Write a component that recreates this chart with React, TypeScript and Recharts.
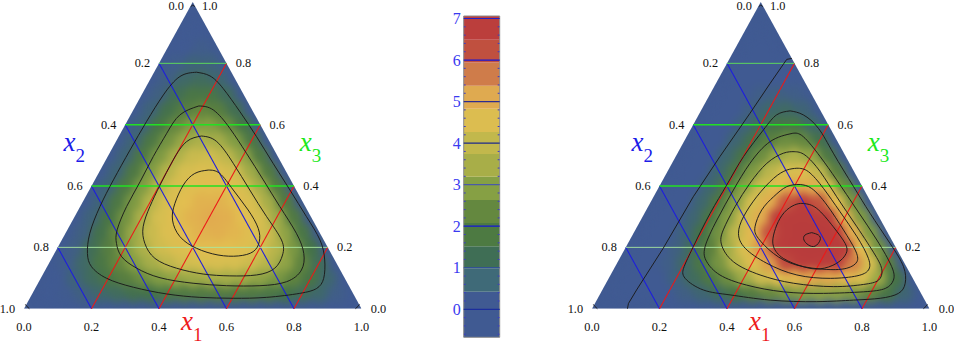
import React from 'react';
import { ComposedChart, XAxis, YAxis, Scatter, Line, ReferenceArea, ReferenceLine } from 'recharts';

// ---- data ----
// density rows: row i is x3 = 0.05*(i+1); entry j is x1 = 0.05*(j+1)
const leftDensity = [
  [.1,.3,.5,.8,1,1.2,1.3,1.5,1.6,1.65,1.7,1.65,1.6,1.5,1.3,1.05,.8,.4],
  [.25,.6,1,1.45,1.8,2.15,2.45,2.7,2.85,2.95,2.95,2.85,2.65,2.35,1.95,1.4,.75],
  [.35,.85,1.45,2,2.5,2.95,3.35,3.65,3.8,3.85,3.8,3.55,3.2,2.65,1.95,1.05],
  [.45,1.1,1.75,2.45,3.05,3.6,4,4.3,4.45,4.4,4.2,3.8,3.2,2.35,1.3],
  [.5,1.25,2.05,2.8,3.5,4.05,4.45,4.7,4.75,4.6,4.2,3.55,2.65,1.45],
  [.6,1.4,2.25,3.05,3.75,4.3,4.7,4.85,4.75,4.4,3.8,2.85,1.6],
  [.6,1.5,2.4,3.2,3.9,4.4,4.7,4.7,4.45,3.85,2.95,1.65],
  [.65,1.55,2.45,3.25,3.9,4.3,4.45,4.3,3.8,2.95,1.7],
  [.65,1.55,2.45,3.2,3.75,4.05,4,3.65,2.85,1.65],
  [.65,1.55,2.4,3.05,3.5,3.6,3.35,2.7,1.6],
  [.65,1.5,2.25,2.8,3.05,2.95,2.45,1.5],
  [.6,1.4,2.05,2.45,2.5,2.15,1.35],
  [.6,1.25,1.75,2,1.8,1.15],
  [.5,1.1,1.45,1.45,1],
  [.45,.85,1,.75],
  [.35,.6,.55],
  [.25,.35],
  [.15],
];
const rightDensity = [
  [0,0,.1,.25,.45,.7,1,1.35,1.7,2.05,2.3,2.5,2.6,2.55,2.35,2,1.4,.7],
  [0,.1,.25,.55,1,1.55,2.15,2.85,3.55,4.15,4.6,4.9,4.9,4.6,3.9,2.8,1.35],
  [0,.15,.4,.85,1.5,2.3,3.2,4.1,5.05,5.75,6.25,6.4,6.1,5.25,3.8,1.9],
  [0,.15,.5,1.1,1.9,2.9,4,5.1,6.1,6.8,7.1,6.9,6.05,4.45,2.25],
  [.05,.2,.6,1.3,2.25,3.35,4.55,5.65,6.6,7.1,7.05,6.3,4.75,2.4],
  [.05,.25,.7,1.45,2.45,3.6,4.8,5.85,6.55,6.7,6.1,4.7,2.4],
  [.05,.25,.75,1.55,2.55,3.7,4.75,5.6,5.95,5.6,4.4,2.3],
  [.05,.25,.75,1.55,2.55,3.55,4.45,4.95,4.85,3.9,2.1],
  [.05,.25,.75,1.5,2.4,3.25,3.85,3.95,3.35,1.85],
  [.05,.25,.75,1.4,2.15,2.8,3.05,2.7,1.55],
  [.05,.25,.7,1.25,1.85,2.15,2.05,1.25],
  [.05,.25,.6,1.05,1.4,1.45,.9],
  [.05,.2,.5,.8,.9,.65],
  [.05,.15,.4,.5,.4],
  [0,.1,.25,.25],
  [0,.1,.1],
  [0,.05],
  [0],
];

const xTicks = [0.2, 0.4, 0.6, 0.8];
const labelTicks = ['0.0', '0.2', '0.4', '0.6', '0.8', '1.0'];
const scaleTicks = [0, 1, 2, 3, 4, 5, 6, 7];

const leftContours: number[][][] = [
  [[.511,.771],[.551,.759],[.590,.718],[.640,.642],[.689,.561],[.738,.474],[.788,.387],[.837,.300],[.877,.224],[.891,.159],[.888,.099],[.867,.066],[.817,.050],[.719,.037],[.620,.034],[.521,.037],[.423,.048],[.324,.070],[.245,.099],[.200,.137],[.188,.180],[.195,.246],[.225,.333],[.265,.420],[.314,.517],[.363,.610],[.413,.697],[.462,.757]],
  [[.518,.661],[.561,.648],[.610,.588],[.659,.507],[.709,.420],[.758,.333],[.807,.246],[.829,.180],[.822,.126],[.778,.088],[.699,.075],[.600,.075],[.501,.083],[.403,.101],[.334,.132],[.289,.170],[.274,.213],[.276,.257],[.304,.333],[.344,.414],[.383,.496],[.423,.572],[.462,.632]],
  [[.526,.563],[.571,.545],[.620,.474],[.669,.387],[.719,.300],[.763,.224],[.766,.175],[.743,.132],[.689,.110],[.610,.107],[.531,.113],[.452,.132],[.388,.164],[.358,.213],[.353,.267],[.373,.333],[.403,.403],[.442,.485],[.482,.545]],
  [[.546,.452],[.580,.441],[.620,.387],[.664,.322],[.694,.262],[.697,.218],[.679,.186],[.635,.172],[.575,.175],[.511,.197],[.462,.235],[.440,.289],[.447,.343],[.472,.403],[.506,.441]],
];
const rightContours: number[][][] = [
  [[.587,.645],[.626,.632],[.671,.588],[.715,.507],[.775,.398],[.824,.311],[.883,.213],[.923,.137],[.928,.083],[.908,.050],[.854,.034],[.775,.028],[.666,.023],[.528,.028],[.409,.045],[.330,.061],[.276,.099],[.273,.137],[.300,.202],[.350,.311],[.399,.403],[.449,.496],[.508,.583],[.547,.632]],
  [[.595,.572],[.626,.561],[.676,.496],[.725,.420],[.785,.322],[.844,.224],[.888,.137],[.893,.093],[.869,.066],[.804,.055],[.686,.050],[.567,.055],[.458,.077],[.379,.110],[.340,.153],[.335,.202],[.370,.289],[.419,.387],[.468,.474],[.528,.545]],
  [[.599,.512],[.631,.501],[.676,.447],[.725,.365],[.785,.267],[.839,.175],[.859,.126],[.849,.093],[.804,.079],[.715,.072],[.597,.083],[.498,.110],[.419,.153],[.384,.208],[.389,.257],[.424,.333],[.468,.409],[.518,.474],[.567,.507]],
  [[.607,.458],[.641,.447],[.686,.392],[.735,.316],[.785,.235],[.819,.164],[.819,.126],[.785,.107],[.706,.099],[.607,.110],[.518,.148],[.454,.197],[.434,.246],[.449,.300],[.488,.365],[.538,.425],[.577,.452]],
  [[.617,.405],[.651,.392],[.696,.338],[.745,.257],[.780,.191],[.785,.153],[.755,.132],[.696,.128],[.607,.142],[.538,.180],[.493,.229],[.483,.267],[.503,.322],[.538,.365],[.577,.398]],
  [[.626,.343],[.666,.327],[.715,.267],[.750,.213],[.753,.180],[.725,.148],[.676,.130],[.626,.137],[.567,.164],[.538,.202],[.538,.240],[.552,.284],[.577,.322],[.607,.341]],
  [[.651,.248],[.671,.240],[.676,.224],[.661,.204],[.641,.208],[.628,.224],[.631,.240]],
];
const rightOpenContour = [[.105,0],[.108,.017],[.132,.061],[.211,.197],[.300,.365],[.379,.496],[.468,.637],[.528,.735],[.577,.813],[.592,.816]];
const cornerContours = [
  [[.004,.014],[.008,.008],[.016,0]],
  [[.994,.014],[.99,.008],[.982,0]],
  [[.494,.985],[.5,.99],[.506,.985]],
];

const bandEdges = [-.674,.42,.98,1.52,2.08,2.63,3.19,3.74,4.27,4.83,5.38,5.94,6.49,7.06];
const bandColors = ['#405a92','#3f6a78','#3f6e55','#4d7a42','#64883f','#86a044','#a8ae48','#c2b84c','#dcbd50','#dfaa50','#cf7c4a','#c0503f','#bb3e3c'];
const scaleLineColors = ['#1c2e9c','#2f4aa8','#1414d8','#4a5aa8','#1c2a8c','#2c2c90','#1414d8','#2222c8'];
const minorTicks = [-.6,-.4,-.2,.2,.4,.6,.8,1.2,1.4,1.6,1.8,2.2,2.4,2.6,2.8,3.2,3.4,3.6,3.8,4.2,4.4,4.6,4.8,5.2,5.4,5.6,5.8,6.2,6.4,6.6,6.8];

const colorStops: [number, number[]][] = [
  [0.25,[64,90,146]],[.8,[63,104,108]],[1.3,[68,114,72]],[1.9,[92,128,62]],[2.5,[132,158,68]],
  [3.1,[176,178,74]],[3.7,[212,190,80]],[4.4,[226,190,80]],[5,[224,165,78]],[5.4,[203,105,68]],
  [5.85,[187,62,60]],[7,[184,60,60]],
];

// ---- layout ----
const PANEL_H = 344;
const BOTTOM = 308.7;
const TOP = 2;
const SIDE = 337.5;
const serif = '"Liberation Serif", "Times New Roman", serif';

function colorOf(v: number) {
  if (v <= colorStops[0][0]) return `rgb(${colorStops[0][1].join(',')})`;
  for (let i = 1; i < colorStops.length; i++) {
    if (v <= colorStops[i][0]) {
      const [a, ca] = colorStops[i - 1];
      const [b, cb] = colorStops[i];
      const t = (v - a) / (b - a);
      return `rgb(${ca.map((c, k) => Math.round(c + (cb[k] - c) * t)).join(',')})`;
    }
  }
  return `rgb(${colorStops[colorStops.length - 1][1].join(',')})`;
}

const toCells = (rows: number[][]) =>
  rows.flatMap((row, i) =>
    row.map((value, j) => {
      const x3 = 0.05 * (i + 1);
      const x1 = 0.05 * (j + 1);
      return { u: x1 + x3 / 2, v: x3, value };
    })
  );
const toPath = (pts: number[][], closed: boolean) => {
  const list = pts.map(([u, v]) => ({ u, v }));
  return closed ? [...list, list[0]] : list;
};

const CELL_W = (SIDE * 0.05) / 2 + 0.4;
const CELL_R = ((BOTTOM - TOP) * 0.05) / 1.5 + 0.4;

const HexCell = (p: any) => {
  const { cx, cy, payload } = p;
  const w = CELL_W, r = CELL_R;
  return (
    <polygon
      points={`${cx},${cy - r} ${cx + w},${cy - r / 2} ${cx + w},${cy + r / 2} ${cx},${cy + r} ${cx - w},${cy + r / 2} ${cx - w},${cy - r / 2}`}
      fill={colorOf(payload.value)}
    />
  );
};
const TextMark = (p: any) => {
  const { cx, cy, payload } = p;
  return (
    <text x={cx + payload.dx} y={cy + payload.dy} textAnchor="middle" dominantBaseline="central" fontFamily={serif} fontSize={12.3} fill="#111">
      {payload.text}
    </text>
  );
};
const TitleMark = (p: any) => {
  const { cx, cy, payload } = p;
  return (
    <g fontFamily={serif} fill={payload.color}>
      <text x={cx} y={cy + payload.dy} fontSize={27} fontStyle="italic">x</text>
      <text x={cx + 12} y={cy + payload.dy + 11} fontSize={19}>{payload.sub}</text>
    </g>
  );
};

const tickLabels = labelTicks.flatMap((text, i) => {
  const c = i / 5;
  const dyEdge = i === 0 ? 4 : 0;
  return [
    { u: c, v: 0, text, dx: 0, dy: 18 },                                 // x1 along the bottom
    { u: (1 - c) / 2, v: 1 - c, text: labelTicks[i], dx: -16.6, dy: dyEdge }, // x2 along the left edge
    { u: 1 - (1 - c) / 2, v: 1 - c, text: labelTicks[5 - i], dx: 17, dy: dyEdge }, // x3 along the right edge
  ];
});

const titles = [
  { u: 0.465, v: 0, dy: 21, color: '#ee1c1c', sub: '1' },
  { u: 0.117, v: 0.515, dy: 0, color: '#1c1ce8', sub: '2' },
  { u: 0.817, v: 0.515, dy: 0, color: '#1ce81c', sub: '3' },
];

const greenStyles = [
  { c: 0.2, stroke: '#a8e8a0', w: 0.9 },
  { c: 0.4, stroke: '#22e022', w: 1.4 },
  { c: 0.6, stroke: '#22e022', w: 1.4 },
  { c: 0.8, stroke: '#5cd85c', w: 1 },
];

function Panel({ id, left, width, plotLeft, rows, contours, open }: any) {
  const plotRight = plotLeft + SIDE;
  const apex = plotLeft + SIDE / 2;
  const margin = { left: plotLeft, right: width - plotRight, top: TOP, bottom: PANEL_H - BOTTOM };
  return (
    <div style={{ position: 'absolute', left, top: 0, width, height: PANEL_H }}>
      <style>{`.fld-${id}{filter:url(#blur-${id});clip-path:url(#clip-${id});}
.bg-${id}{clip-path:url(#clip-${id});}`}</style>
      <div style={{ position: 'absolute', left: 0, top: 0 }}>
        <ComposedChart width={width} height={PANEL_H} margin={margin}>
          <defs>
            <clipPath id={`clip-${id}`} clipPathUnits="userSpaceOnUse">
              <polygon points={`${plotLeft},${BOTTOM} ${plotRight},${BOTTOM} ${apex},${TOP}`} />
            </clipPath>
            <filter id={`blur-${id}`} x="-10%" y="-10%" width="120%" height="120%" colorInterpolationFilters="sRGB">
              <feGaussianBlur stdDeviation="4.2" />
            </filter>
          </defs>
          <XAxis type="number" dataKey="u" domain={[0, 1]} hide allowDataOverflow />
          <YAxis type="number" dataKey="v" domain={[0, 1]} hide allowDataOverflow />
          <ReferenceArea x1={0} x2={1} y1={0} y2={1} fill="#405a92" fillOpacity={1} stroke="none" className={`bg-${id}`} />
          <Scatter className={`fld-${id}`} data={toCells(rows)} shape={HexCell} isAnimationActive={false} />
        </ComposedChart>
      </div>
      <div style={{ position: 'absolute', left: 0, top: 0 }}>
        <ComposedChart width={width} height={PANEL_H} margin={margin}>
          <XAxis type="number" dataKey="u" domain={[0, 1]} hide />
          <YAxis type="number" dataKey="v" domain={[0, 1]} hide />
          {xTicks.map((c) => (
            <ReferenceLine key={`b${c}`} stroke="#1c1ce0" strokeWidth={1.05} segment={[{ x: (1 - c) / 2, y: 1 - c }, { x: 1 - c, y: 0 }]} />
          ))}
          {xTicks.map((c) => (
            <ReferenceLine key={`r${c}`} stroke="#ec1818" strokeWidth={1.05} segment={[{ x: c, y: 0 }, { x: c + (1 - c) / 2, y: 1 - c }]} />
          ))}
          {greenStyles.map((g) => (
            <ReferenceLine key={`g${g.c}`} stroke={g.stroke} strokeWidth={g.w} segment={[{ x: g.c / 2, y: g.c }, { x: 1 - g.c / 2, y: g.c }]} />
          ))}
          {contours.map((pts: number[][], i: number) => (
            <Line key={i} data={toPath(pts, true)} dataKey="v" type="natural" stroke="#1a1a1a" strokeWidth={0.95} dot={false} activeDot={false} isAnimationActive={false} />
          ))}
          {open.map((pts: number[][], i: number) => (
            <Line key={`o${i}`} data={toPath(pts, false)} dataKey="v" type="linear" stroke="#1a1a1a" strokeWidth={0.95} dot={false} activeDot={false} isAnimationActive={false} />
          ))}
          <Scatter data={tickLabels} shape={TextMark} isAnimationActive={false} />
          <Scatter data={titles} shape={TitleMark} isAnimationActive={false} />
        </ComposedChart>
      </div>
    </div>
  );
}

const minorData = minorTicks.flatMap((v) => [{ u: 0, v, side: 1 }, { u: 1, v, side: -1 }]);
const MinorMark = (p: any) => {
  const { cx, cy, payload } = p;
  return <line x1={cx} x2={cx + payload.side * 2} y1={cy} y2={cy} stroke="#3a3ac8" strokeWidth={1} />;
};

function ColorScale() {
  return (
    <div style={{ position: 'absolute', left: 430, top: 0 }}>
      <ComposedChart width={90} height={PANEL_H} margin={{ left: 0, right: 20.3, top: 16, bottom: 6.7 }}>
        <XAxis type="number" dataKey="u" domain={[0, 1]} hide allowDataOverflow />
        <YAxis
          type="number"
          dataKey="v"
          domain={[-0.674, 7.06]}
          ticks={scaleTicks}
          width={33.7}
          axisLine={false}
          tickLine={false}
          tickMargin={0}
          tickSize={3}
          interval={0}
          allowDataOverflow
          tick={{ fontFamily: serif, fontSize: 16, fill: '#3a3af0' }}
        />
        {bandColors.map((c, i) => (
          <ReferenceArea key={i} x1={0} x2={1} y1={bandEdges[i]} y2={bandEdges[i + 1]} fill={c} fillOpacity={1} stroke="none" />
        ))}
        {scaleTicks.map((t, i) => (
          <ReferenceLine key={t} y={t} stroke={scaleLineColors[i]} strokeWidth={1.2} />
        ))}
        <ReferenceArea x1={0} x2={1} y1={-0.674} y2={7.06} fill="none" stroke="#8c8c8c" strokeWidth={1} />
        <Scatter data={minorData} shape={MinorMark} isAnimationActive={false} />
      </ComposedChart>
    </div>
  );
}

export default function App() {
  return (
    <div style={{ position: 'absolute', left: 0, top: 0, width: 954, height: 344, background: '#fff', overflow: 'hidden' }}>
      <Panel id="l" left={0} width={400} plotLeft={24} rows={leftDensity} contours={leftContours} open={cornerContours} />
      <ColorScale />
      <Panel id="r" left={540} width={414} plotLeft={52} rows={rightDensity} contours={rightContours} open={[rightOpenContour, ...cornerContours]} />
    </div>
  );
}
